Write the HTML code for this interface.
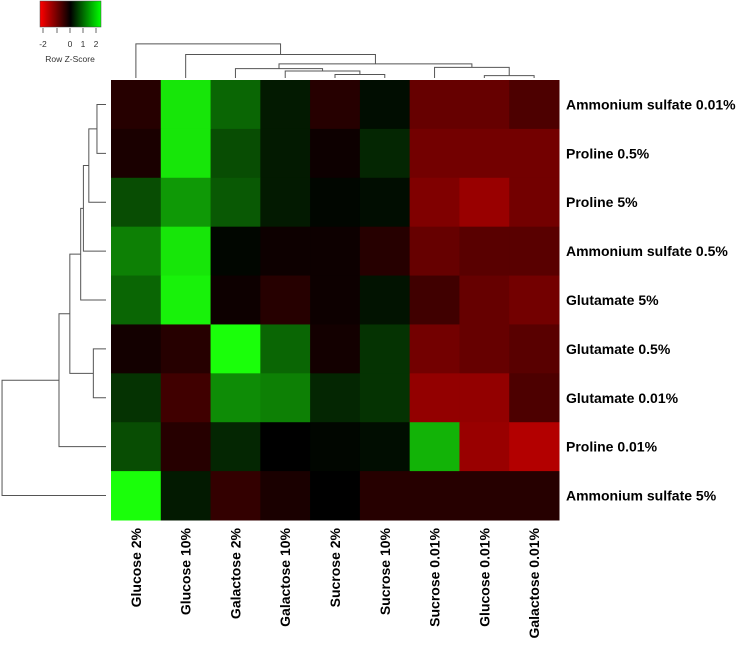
<!DOCTYPE html>
<html><head><meta charset="utf-8"><style>
html,body{margin:0;padding:0;background:#fff;}
svg text{font-family:"Liberation Sans",Arial,sans-serif;}
</style></head><body>
<svg id="chart" width="749" height="647" viewBox="0 0 749 647" xmlns="http://www.w3.org/2000/svg">
<rect width="749" height="647" fill="#fff"/>
<g id="legend">
<defs><linearGradient id="lg" x1="0" x2="1" y1="0" y2="0">
<stop offset="0" stop-color="#ff0000"/><stop offset="0.5" stop-color="#000"/><stop offset="1" stop-color="#00ff00"/></linearGradient></defs>
<rect x="40" y="1" width="61" height="26" fill="url(#lg)" stroke="#444" stroke-width="0.5"/>
<g stroke="#444" stroke-width="0.8">
<line x1="43" y1="28" x2="43" y2="33"/><line x1="57" y1="28" x2="57" y2="33"/><line x1="70" y1="28" x2="70" y2="33"/><line x1="83" y1="28" x2="83" y2="33"/><line x1="96" y1="28" x2="96" y2="33"/>
</g>
<g font-size="8.5" fill="#333" text-anchor="middle">
<text x="43" y="47">-2</text>
<text x="70" y="47">0</text>
<text x="83" y="47">1</text>
<text x="96" y="47">2</text>
<text x="70" y="62">Row Z-Score</text>
</g>
</g>
<g id="dendros" stroke="#555" stroke-width="1" fill="none"></g>
<g id="cells"></g>
<g id="collabels"></g>
<g id="rowlabels"></g>
</svg>
<script>
const columns = ["Glucose 2%","Glucose 10%","Galactose 2%","Galactose 10%","Sucrose 2%","Sucrose 10%","Sucrose 0.01%","Glucose 0.01%","Galactose 0.01%"];
const rows = ["Ammonium sulfate 0.01%","Proline 0.5%","Proline 5%","Ammonium sulfate 0.5%","Glutamate 5%","Glutamate 0.5%","Glutamate 0.01%","Proline 0.01%","Ammonium sulfate 5%"];
const zRow1 = [-0.3,1.8,0.8,0.2,-0.3,0.1,-0.8,-0.8,-0.6];
const zRow2 = [-0.2,1.8,0.6,0.2,-0.1,0.3,-0.9,-0.9,-0.9];
const zRow3 = [0.6,1.2,0.7,0.2,0.05,0.1,-1.0,-1.2,-0.9];
const zRow4 = [1.0,1.8,0.05,-0.1,-0.1,-0.3,-0.8,-0.7,-0.7];
const zRow5 = [0.8,1.9,-0.1,-0.3,-0.1,0.15,-0.5,-0.8,-0.9];
const zRow6 = [-0.15,-0.3,2.0,0.8,-0.15,0.4,-0.9,-0.8,-0.7];
const zRow7 = [0.4,-0.5,1.1,1.0,0.3,0.4,-1.15,-1.15,-0.6];
const zRow8 = [0.6,-0.3,0.3,0.0,0.05,0.1,1.4,-1.2,-1.4];
const zRow9 = [2.0,0.2,-0.4,-0.2,0.0,-0.3,-0.3,-0.3,-0.3];
const values = [zRow1,zRow2,zRow3,zRow4,zRow5,zRow6,zRow7,zRow8,zRow9];
const colMerges = [[4,5,0.15],[7,8,0.1],[3,9,0.3],[2,11,0.4],[6,10,0.45],[12,13,0.6],[1,14,1.0],[0,15,1.45]];
const rowMerges = [[0,1,0.2],[9,2,0.38],[10,3,0.5],[11,4,0.56],[5,6,0.28],[12,13,0.8],[14,7,1.04],[15,8,2.3]];

const NS="http://www.w3.org/2000/svg";
const X0=111,X1=559,Y0=80,Y1=520;
const cw=(X1-X0)/columns.length, rh=(Y1-Y0)/rows.length;
const xCol=i=>X0+cw*i, yRow=j=>Y0+rh*j;
function color(z){const t=Math.max(-1,Math.min(1,z/2));const v=Math.round(Math.abs(t)*255);return t<0?`rgb(${v},0,0)`:`rgb(${Math.round(v*0.1)},${v},${Math.round(v*0.04)})`;}
const cells=document.getElementById('cells');
values.forEach((r,j)=>r.forEach((z,i)=>{
 const e=document.createElementNS(NS,'rect');
 
 
 e.setAttribute('x',xCol(i));e.setAttribute('y',yRow(j));
 e.setAttribute('width',cw+0.5);e.setAttribute('height',rh+0.5);
 e.setAttribute('fill',color(z));cells.appendChild(e);
}));
const cl=document.getElementById('collabels');
columns.forEach((c,i)=>{
 const t=document.createElementNS(NS,'text');
 
 
 const x=xCol(i)+cw/2+5,y=528;
 t.setAttribute('transform',`translate(${x},${y}) rotate(-90)`);
 t.setAttribute('text-anchor','end');t.setAttribute('font-size','14');t.setAttribute('font-weight','bold');
 t.textContent=c;cl.appendChild(t);
});
const rl=document.getElementById('rowlabels');
rows.forEach((r,j)=>{
 const t=document.createElementNS(NS,'text');
 
 
 t.setAttribute('x',566);t.setAttribute('y',yRow(j)+rh/2+5);
 t.setAttribute('font-size','14');t.setAttribute('font-weight','bold');
 t.textContent=r;rl.appendChild(t);
});
const dg=document.getElementById('dendros');
function drawDendro(merges,n,pos,hScale,base,vertical){
 const P=[],H=[];for(let i=0;i<n;i++){P.push(pos(i));H.push(0);}
 merges.forEach(m=>{
  const [a,b,h]=m;const pa=P[a],pb=P[b],ha=H[a],hb=H[b];
  const p=document.createElementNS(NS,'path');
  
  
  const f=v=>base-v*hScale;
  let d;
  if(vertical) d=`M${pa},${f(ha)}V${f(h)}H${pb}V${f(hb)}`;
  else d=`M${f(ha)},${pa}H${f(h)}V${pb}H${f(hb)}`;
  p.setAttribute('d',d);dg.appendChild(p);
  P.push((pa+pb)/2);H.push(h);
 });
}
drawDendro(colMerges,columns.length,i=>xCol(i)+cw/2,23.5,78,true);
drawDendro(rowMerges,rows.length,j=>yRow(j)+rh/2,45.2,106,false);
</script>
</body></html>
